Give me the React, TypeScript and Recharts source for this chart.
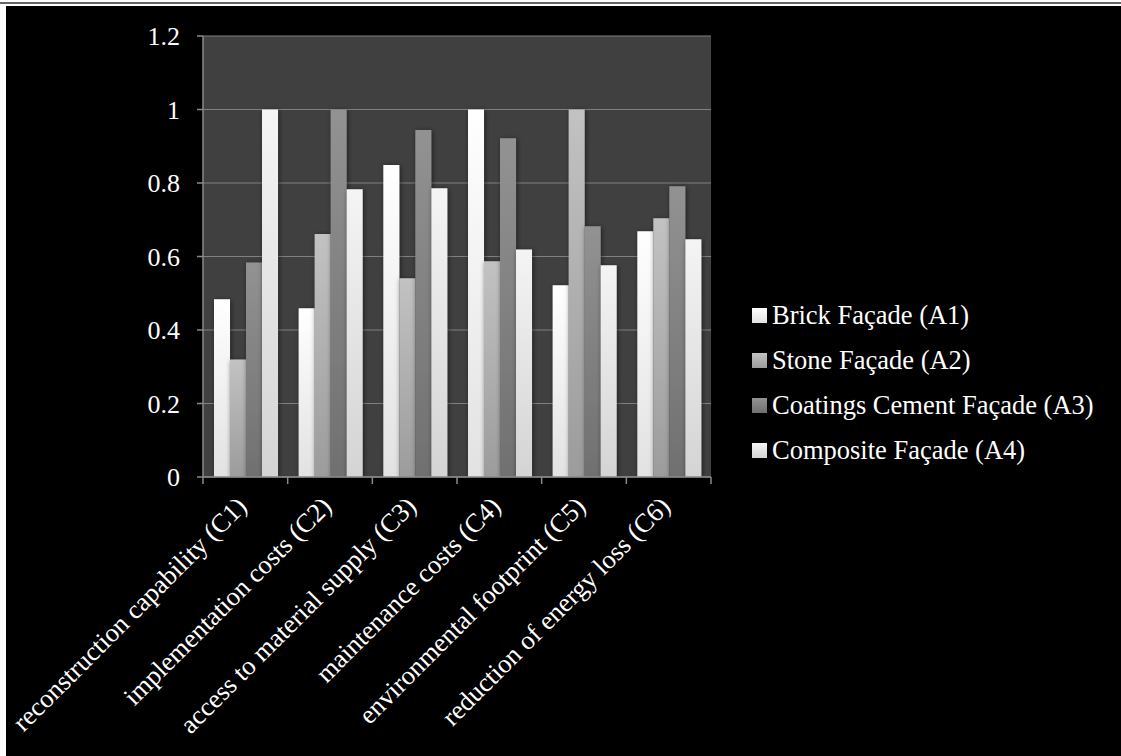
import { BarChart, Bar, XAxis, YAxis, CartesianGrid, Legend } from 'recharts';

const categories = [
  'reconstruction capability (C1)',
  'implementation costs (C2)',
  'access to material supply (C3)',
  'maintenance costs (C4)',
  'environmental footprint (C5)',
  'reduction of energy loss (C6)',
];

const brick = [0.484, 0.459, 0.849, 1.0, 0.522, 0.669];
const stone = [0.32, 0.661, 0.541, 0.587, 1.0, 0.704];
const coatings = [0.584, 1.0, 0.944, 0.922, 0.682, 0.791];
const composite = [1.0, 0.783, 0.786, 0.619, 0.576, 0.647];

const seriesNames = [
  'Brick Façade (A1)',
  'Stone Façade (A2)',
  'Coatings Cement Façade (A3)',
  'Composite Façade (A4)',
];

const yTicks = [0, 0.2, 0.4, 0.6, 0.8, 1, 1.2];

// top / bottom colours of each bar gradient
const gradients = [
  ['#ffffff', '#e2e2e2'],
  ['#c2c2c2', '#9c9c9c'],
  ['#929292', '#707070'],
  ['#f4f4f4', '#d4d4d4'],
];

const keys = ['brick', 'stone', 'coatings', 'composite'];

const data = categories.map((name, i) => ({
  name,
  brick: brick[i],
  stone: stone[i],
  coatings: coatings[i],
  composite: composite[i],
}));

const FONT = "'Liberation Serif', 'Times New Roman', serif";
const AXIS_GRAY = '#8a8a8a';

const CHART_W = 1115;
const CHART_H = 750;
const MARGIN = { top: 30, right: 410, bottom: 278, left: 137 };
const Y_AXIS_W = 60;
const PLOT_W = CHART_W - MARGIN.left - MARGIN.right - Y_AXIS_W;

const CategoryTick = (props: any) => {
  const { x, y, payload, index } = props;
  const half = PLOT_W / categories.length / 2;
  return (
    <g>
      {/* tick marks sit on the category boundaries, like Excel */}
      <line x1={x - half} x2={x - half} y1={y} y2={y + 7} stroke={AXIS_GRAY} strokeWidth={1.5} />
      {index === categories.length - 1 && (
        <line x1={x + half} x2={x + half} y1={y} y2={y + 7} stroke={AXIS_GRAY} strokeWidth={1.5} />
      )}
      <g transform={`translate(${x + 3},${y + 31})`}>
        <text
          x={0}
          y={0}
          textAnchor="end"
          transform="rotate(-45)"
          fill="#ffffff"
          fontSize={26.5}
          fontFamily={FONT}
        >
          {payload.value}
        </text>
      </g>
    </g>
  );
};

const LegendBox = () => (
  <div style={{ fontFamily: FONT, fontSize: 26.5, color: '#fff' }}>
    {seriesNames.map((s, i) => (
      <div key={s} style={{ display: 'flex', alignItems: 'center', height: 45, whiteSpace: 'nowrap' }}>
        <span
          style={{
            display: 'inline-block',
            width: 15,
            height: 15,
            marginRight: 5,
            background: `linear-gradient(${gradients[i][0]}, ${gradients[i][1]})`,
          }}
        />
        {s}
      </div>
    ))}
  </div>
);

export default function App() {
  return (
    <div style={{ position: 'absolute', left: 0, top: 0, width: 1121, height: 756, background: '#fff', overflow: 'hidden' }}>
      <div style={{ position: 'absolute', left: 0, top: 2, width: 1121, height: 2, background: '#666' }} />
      <div style={{ position: 'absolute', left: 6, top: 6, width: CHART_W, height: CHART_H, background: '#000' }}>
        <BarChart
          width={CHART_W}
          height={CHART_H}
          data={data}
          margin={MARGIN}
          barCategoryGap="13%"
          barGap={0}
        >
          <defs>
            {gradients.map((g, i) => (
              <linearGradient key={i} id={`grad${i}`} x1="0" y1="0" x2="0" y2="1">
                <stop offset="0%" stopColor={g[0]} />
                <stop offset="100%" stopColor={g[1]} />
              </linearGradient>
            ))}
            <filter id="barShadow" x="-30%" y="-10%" width="160%" height="120%">
              <feDropShadow dx="1" dy="1" stdDeviation="2.5" floodColor="#000" floodOpacity="0.55" />
            </filter>
          </defs>
          <CartesianGrid vertical={false} fill="#404040" stroke="#808080" strokeWidth={1.2} />
          <XAxis
            dataKey="name"
            height={1}
            interval={0}
            tickSize={0}
            tickMargin={0}
            axisLine={{ stroke: AXIS_GRAY, strokeWidth: 1.5 }}
            tickLine={false}
            tick={<CategoryTick />}
          />
          <YAxis
            width={Y_AXIS_W}
            domain={[0, 1.2]}
            ticks={yTicks}
            interval={0}
            tickSize={6}
            tickMargin={17}
            axisLine={{ stroke: AXIS_GRAY, strokeWidth: 1.5 }}
            tickLine={{ stroke: AXIS_GRAY, strokeWidth: 1.5 }}
            tick={{ fill: '#ffffff', fontSize: 26, fontFamily: FONT }}
            tickFormatter={(v: number) => String(Math.round(v * 10) / 10)}
          />
          <Legend
            layout="vertical"
            align="center"
            verticalAlign="middle"
            content={<LegendBox />}
            wrapperStyle={{ left: 746, top: 287, width: 365 }}
          />
          {keys.map((k, i) => (
            <Bar
              key={k}
              dataKey={k}
              name={seriesNames[i]}
              fill={`url(#grad${i})`}
              filter="url(#barShadow)"
              isAnimationActive={false}
            />
          ))}
        </BarChart>
      </div>
    </div>
  );
}
